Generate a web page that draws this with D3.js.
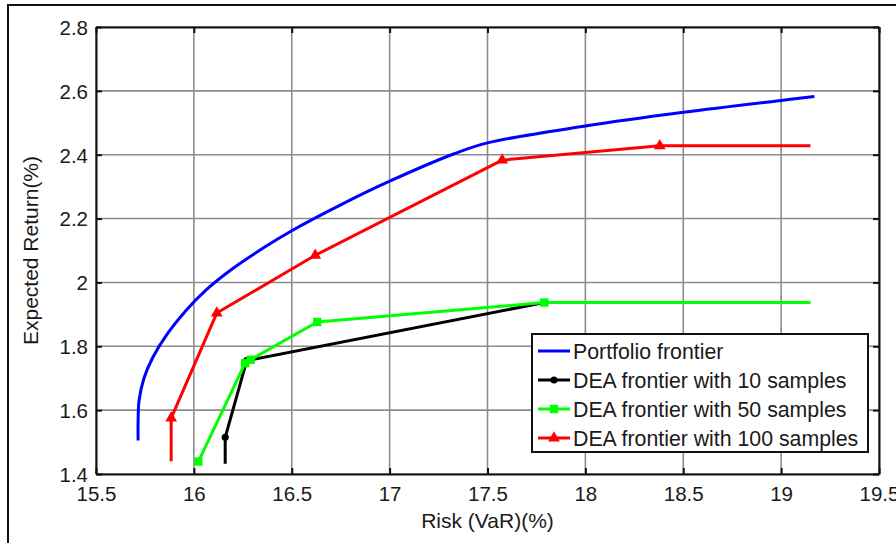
<!DOCTYPE html>
<html>
<head>
<meta charset="utf-8">
<script src="https://cdn.jsdelivr.net/npm/d3@7"></script>
<style>
  body { margin: 0; background: #fff; }
  text { font-family: 'Liberation Sans', Arial, sans-serif; fill: #1a1a1a; }
</style>
</head>
<body>
<svg id="chart" width="896" height="543"></svg>
<script>
// Axis ticks
const xTicks = [15.5, 16, 16.5, 17, 17.5, 18, 18.5, 19, 19.5];
const yTicks = [1.4, 1.6, 1.8, 2, 2.2, 2.4, 2.6, 2.8];

// Portfolio frontier (risk, return)
const portfolioFrontier = [
  [15.715, 1.505], [15.715, 1.56], [15.72, 1.63], [15.745, 1.70], [15.79, 1.765],
  [15.86, 1.835], [15.96, 1.912], [16.06, 1.975], [16.18, 2.035], [16.36, 2.11],
  [16.5, 2.162], [16.75, 2.243], [17.0, 2.317], [17.33, 2.403], [17.5, 2.437],
  [18.0, 2.49], [18.5, 2.533], [19.0, 2.57], [19.17, 2.582]
];

// DEA frontiers: sample points (markers) plus frontier tails
const dea10Points = [[16.16, 1.515], [16.27, 1.755], [17.79, 1.937]];
const dea10Start = [16.16, 1.432];
const dea10End = [17.79, 1.937];

const dea50Points = [[16.023, 1.439], [16.262, 1.747], [16.29, 1.758], [16.63, 1.876], [17.79, 1.937]];
const dea50Start = [16.023, 1.439];
const dea50End = [19.15, 1.937];

const dea100Points = [[15.884, 1.575], [16.117, 1.904], [16.62, 2.085], [17.575, 2.383], [18.38, 2.428]];
const dea100Start = [15.884, 1.44];
const dea100End = [19.15, 2.428];

const legendLabels = [
  'Portfolio frontier',
  'DEA frontier with 10 samples',
  'DEA frontier with 50 samples',
  'DEA frontier with 100 samples'
];

const svg = d3.select('#chart');

// Outer figure frame (left and top edges visible)
svg.append('rect')
  .attr('x', 8).attr('y', 5).attr('width', 900).attr('height', 560)
  .attr('fill', 'none').attr('stroke', '#111').attr('stroke-width', 2);

const margin = { top: 27, right: 17, bottom: 69, left: 96 };
const width = 896 - margin.left - margin.right;
const height = 543 - margin.top - margin.bottom;

const g = svg.append('g').attr('transform', `translate(${margin.left},${margin.top})`);

const xScale = d3.scaleLinear().domain([15.5, 19.5]).range([0, width]);
const yScale = d3.scaleLinear().domain([1.4, 2.8]).range([height, 0]);

// Grid
g.append('g').selectAll('line').data(xTicks).enter().append('line')
  .attr('x1', (d) => xScale(d)).attr('x2', (d) => xScale(d))
  .attr('y1', 0).attr('y2', height)
  .attr('stroke', '#8c8c8c').attr('stroke-width', 1.6);
g.append('g').selectAll('line').data(yTicks).enter().append('line')
  .attr('y1', (d) => yScale(d)).attr('y2', (d) => yScale(d))
  .attr('x1', 0).attr('x2', width)
  .attr('stroke', '#8c8c8c').attr('stroke-width', 1.6);

// Axes (MATLAB style box with inward ticks)
const fmt = (d) => String(d);
const xAxis = g.append('g').attr('transform', `translate(0,${height})`)
  .call(d3.axisBottom(xScale).tickValues(xTicks).tickFormat(fmt).tickSizeInner(-6).tickSizeOuter(0).tickPadding(12));
const yAxis = g.append('g')
  .call(d3.axisLeft(yScale).tickValues(yTicks).tickFormat(fmt).tickSizeInner(-6).tickSizeOuter(0).tickPadding(8));
const xAxisTop = g.append('g')
  .call(d3.axisTop(xScale).tickValues(xTicks).tickFormat('').tickSizeInner(-6).tickSizeOuter(0));
const yAxisRight = g.append('g').attr('transform', `translate(${width},0)`)
  .call(d3.axisRight(yScale).tickValues(yTicks).tickFormat('').tickSizeInner(-6).tickSizeOuter(0));

[xAxis, yAxis, xAxisTop, yAxisRight].forEach((a) => {
  a.select('.domain').attr('stroke', '#111').attr('stroke-width', 2);
  a.selectAll('.tick line').attr('stroke', '#111').attr('stroke-width', 2);
  a.selectAll('.tick text').style('font-size', '20.5px').attr('fill', '#1a1a1a');
});
yAxis.selectAll('.tick text').attr('dy', '0.36em');

// Axis labels
g.append('text')
  .attr('x', width / 2).attr('y', height + 54)
  .attr('text-anchor', 'middle').style('font-size', '21px')
  .text('Risk (VaR)(%)');
g.append('text')
  .attr('transform', `translate(-58,${height / 2}) rotate(-90)`)
  .attr('text-anchor', 'middle').style('font-size', '21px')
  .text('Expected Return(%)');

const line = d3.line().x((d) => xScale(d[0])).y((d) => yScale(d[1]));
const smoothLine = d3.line().curve(d3.curveCatmullRom.alpha(0.5))
  .x((d) => xScale(d[0])).y((d) => yScale(d[1]));

// Portfolio frontier
g.append('path').datum(portfolioFrontier)
  .attr('d', smoothLine).attr('fill', 'none')
  .attr('stroke', '#0000ff').attr('stroke-width', 3);

// DEA frontier series
const series = [
  { points: dea10Points, start: dea10Start, end: dea10End, color: '#000000', marker: 'circle' },
  { points: dea50Points, start: dea50Start, end: dea50End, color: '#00ff00', marker: 'square' },
  { points: dea100Points, start: dea100Start, end: dea100End, color: '#ff0000', marker: 'triangle' }
];

const symbolFor = { circle: d3.symbolCircle, square: d3.symbolSquare, triangle: d3.symbolTriangle };
const sizeFor = { circle: 40, square: 70, triangle: 60 };

series.forEach((s) => {
  const path = [s.start, ...s.points, s.end];
  g.append('path').datum(path)
    .attr('d', line).attr('fill', 'none')
    .attr('stroke', s.color).attr('stroke-width', 3)
    .attr('stroke-linejoin', 'round');
  g.append('g').selectAll('path').data(s.points).enter().append('path')
    .attr('transform', (d) => `translate(${xScale(d[0])},${yScale(d[1])})`)
    .attr('d', d3.symbol().type(symbolFor[s.marker]).size(sizeFor[s.marker]))
    .attr('fill', s.color);
});

// Legend
const legend = svg.append('g').attr('transform', 'translate(532,334)');
legend.append('rect')
  .attr('width', 336).attr('height', 118)
  .attr('fill', '#fff').attr('stroke', '#111').attr('stroke-width', 2);

const legendItems = [
  { color: '#0000ff', marker: null },
  { color: '#000000', marker: 'circle' },
  { color: '#00ff00', marker: 'square' },
  { color: '#ff0000', marker: 'triangle' }
];

legendItems.forEach((item, i) => {
  const yy = 17 + i * 29;
  const row = legend.append('g').attr('transform', `translate(0,${yy})`);
  row.append('line')
    .attr('x1', 6).attr('x2', 38).attr('y1', 0).attr('y2', 0)
    .attr('stroke', item.color).attr('stroke-width', 3);
  if (item.marker) {
    row.append('path')
      .attr('transform', 'translate(22,0)')
      .attr('d', d3.symbol().type(symbolFor[item.marker]).size(sizeFor[item.marker]))
      .attr('fill', item.color);
  }
  row.append('text')
    .attr('x', 41).attr('y', 0).attr('dy', '0.36em')
    .style('font-size', '21.3px')
    .text(legendLabels[i]);
});
</script>
</body>
</html>
